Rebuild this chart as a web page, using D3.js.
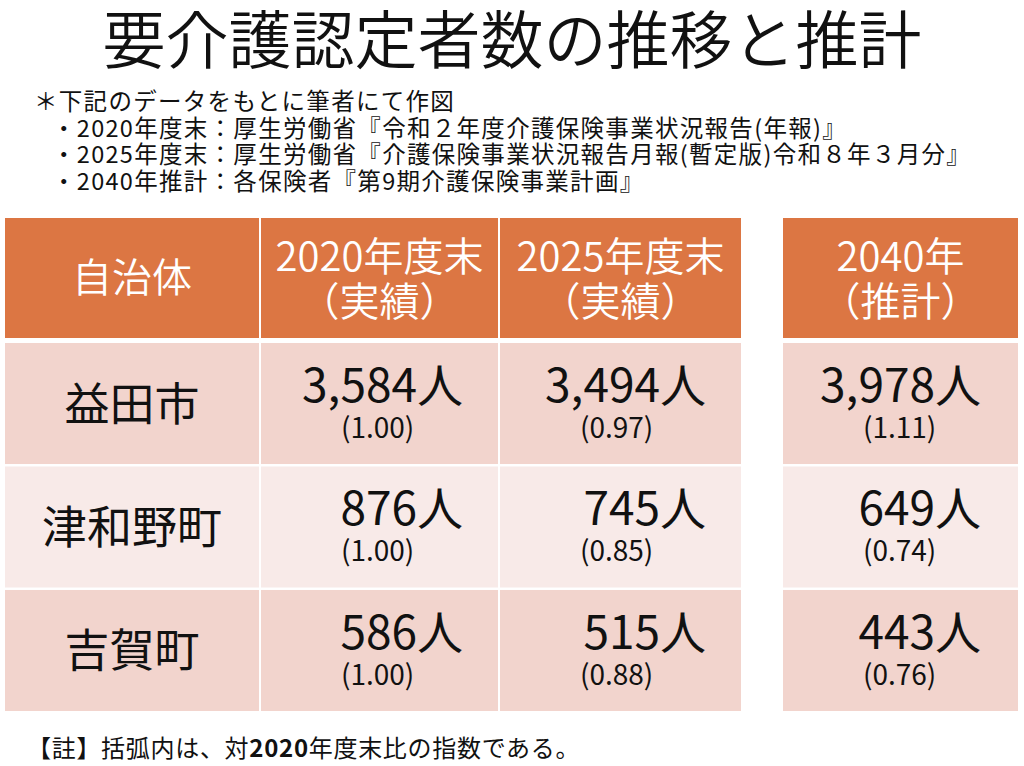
<!DOCTYPE html>
<html lang="ja">
<head>
<meta charset="utf-8">
<script src="https://cdn.jsdelivr.net/npm/d3@7/dist/d3.min.js"></script>
<style>
  html, body { margin: 0; padding: 0; background: #fff; }
  svg { display: block; font-family: "Noto Sans CJK JP", "Noto Sans", sans-serif; }
</style>
</head>
<body>
<svg id="chart"></svg>
<script>
// ── Data ──────────────────────────────────────────────────────────────────────
const title = '要介護認定者数の推移と推計';
const noteLines = [
  '＊下記のデータをもとに筆者にて作図',
  '・2020年度末：厚生労働省『令和２年度介護保険事業状況報告(年報)』',
  '・2025年度末：厚生労働省『介護保険事業状況報告月報(暫定版)令和８年３月分』',
  '・2040年推計：各保険者『第9期介護保険事業計画』'
];
const columnKeys   = ['name', 'y2020', 'y2025', 'y2040'];
const headerLines  = [['自治体'], ['2020年度末', '（実績）'], ['2025年度末', '（実績）'], ['2040年', '（推計）']];
const municipalities = ['益田市', '津和野町', '吉賀町'];
const values2020 = [3584, 876, 586];
const values2025 = [3494, 745, 515];
const values2040 = [3978, 649, 443];
const index2020  = [1.00, 1.00, 1.00];
const index2025  = [0.97, 0.85, 0.88];
const index2040  = [1.11, 0.74, 0.76];
const footnote = ['【註】括弧内は、対', '2020', '年度末比の指数である。'];

// ── Setup ─────────────────────────────────────────────────────────────────────
const W = 1024, H = 766;
const svg = d3.select('#chart').attr('width', W).attr('height', H);

const ORANGE = '#dc7643';
const ROW_FILL = ['#f2d4cd', '#f8eae8'];

// column left edges / widths (the forecast column stands apart)
const colX = d3.scaleOrdinal().domain(columnKeys).range([5, 261, 500, 783]);
const colW = d3.scaleOrdinal().domain(columnKeys).range([254, 237, 241, 235]);
// where the count ends inside each value column
const valueEnd = d3.scaleOrdinal().domain(columnKeys).range([0, 202, 206, 198]);

// rows
const rowY = d3.scaleBand().domain(municipalities).range([343, 711]).paddingInner(0.02);

const fmt = d3.format(',');
const fmtIdx = d3.format('.2f');

// ── Title & notes ─────────────────────────────────────────────────────────────
svg.append('text')
  .attr('x', W / 2).attr('y', 63)
  .attr('text-anchor', 'middle')
  .attr('font-size', 63)
  .attr('font-weight', 350)
  .attr('fill', '#111')
  .text(title);

svg.append('g').selectAll('text')
  .data(noteLines)
  .join('text')
  .attr('x', (d, i) => i === 0 ? 34 : 52)
  .attr('y', (d, i) => 110 + i * 26.5)
  .attr('font-size', 23.5)
  .attr('letter-spacing', 1.3)
  .attr('fill', '#111')
  .text(d => d);

// ── Header ────────────────────────────────────────────────────────────────────
const header = svg.append('g').selectAll('g')
  .data(columnKeys.map((k, i) => ({ key: k, lines: headerLines[i] })))
  .join('g');

header.append('rect')
  .attr('x', d => colX(d.key)).attr('y', 218)
  .attr('width', d => colW(d.key)).attr('height', 120)
  .attr('fill', ORANGE);

header.each(function (d) {
  const cx = colX(d.key) + colW(d.key) / 2;
  const ys = d.lines.length === 1 ? [292] : [271, 316];
  d3.select(this).selectAll('text')
    .data(d.lines)
    .join('text')
    .attr('x', cx)
    .attr('y', (t, i) => ys[i])
    .attr('text-anchor', 'middle')
    .attr('font-size', 40)
    .attr('font-weight', 350)
    .attr('fill', '#fff')
    .text(t => t);
});

// ── Body ──────────────────────────────────────────────────────────────────────
const rows = municipalities.map((m, i) => ({
  name: m,
  i,
  cells: [
    { key: 'y2020', value: values2020[i], idx: index2020[i] },
    { key: 'y2025', value: values2025[i], idx: index2025[i] },
    { key: 'y2040', value: values2040[i], idx: index2040[i] }
  ]
}));

const rowG = svg.append('g').selectAll('g')
  .data(rows)
  .join('g')
  .attr('transform', d => `translate(0,${rowY(d.name)})`);

// name cell
rowG.append('rect')
  .attr('x', colX('name')).attr('width', colW('name'))
  .attr('height', rowY.bandwidth())
  .attr('fill', d => ROW_FILL[d.i % 2]);

rowG.append('text')
  .attr('x', colX('name') + colW('name') / 2)
  .attr('y', rowY.bandwidth() / 2 + 17)
  .attr('text-anchor', 'middle')
  .attr('font-size', 45)
  .attr('fill', '#111')
  .text(d => d.name);

// value cells
const cell = rowG.selectAll('g.cell')
  .data(d => d.cells.map(c => ({ ...c, i: d.i })))
  .join('g')
  .attr('class', 'cell');

cell.append('rect')
  .attr('x', d => colX(d.key)).attr('width', d => colW(d.key))
  .attr('height', rowY.bandwidth())
  .attr('fill', d => ROW_FILL[d.i % 2]);

cell.append('text')
  .attr('x', d => colX(d.key) + valueEnd(d.key))
  .attr('y', 59)
  .attr('text-anchor', 'end')
  .attr('font-size', 46)
  .attr('fill', '#111')
  .text(d => fmt(d.value) + '人');

cell.append('text')
  .attr('x', d => colX(d.key) + 80)
  .attr('y', 95)
  .attr('font-size', 28)
  .attr('fill', '#111')
  .text(d => '(' + fmtIdx(d.idx) + ')');

// ── Footnote ──────────────────────────────────────────────────────────────────
const foot = svg.append('text')
  .attr('x', 27).attr('y', 757)
  .attr('font-size', 24)
  .attr('letter-spacing', 0.7)
  .attr('fill', '#111');
foot.selectAll('tspan')
  .data(footnote)
  .join('tspan')
  .attr('font-weight', (d, i) => i === 1 ? 'bold' : null)
  .text(d => d);
</script>
</body>
</html>
